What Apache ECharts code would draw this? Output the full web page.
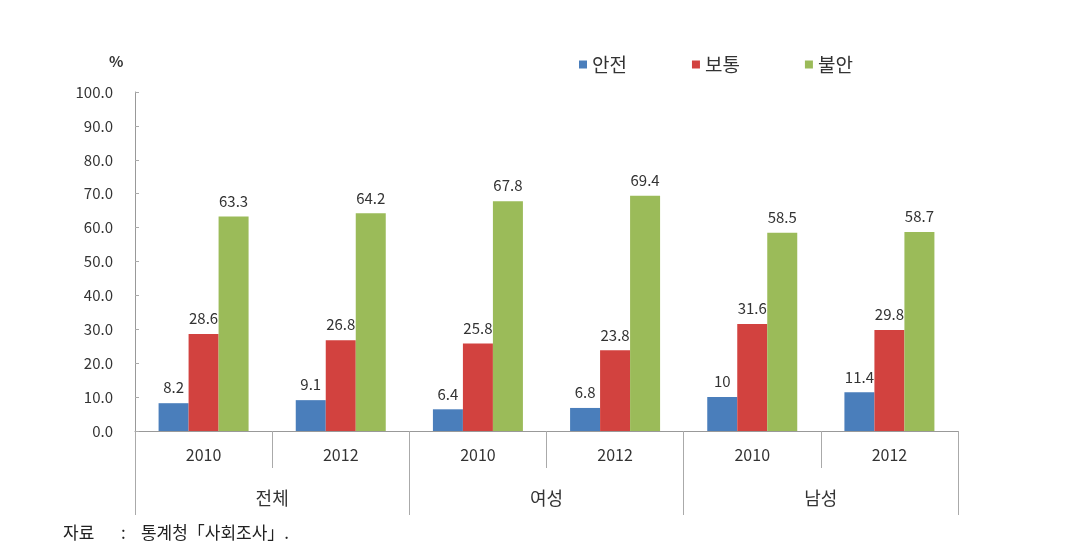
<!DOCTYPE html>
<html>
<head>
<meta charset="utf-8">
<script src="https://cdn.jsdelivr.net/npm/echarts@6/dist/echarts.min.js"></script>
<style>
html,body{margin:0;padding:0;background:#fff;}
#c{width:1072px;height:550px;}
</style>
</head>
<body>
<div id="c"></div>
<script>
const years = ['2010','2012','2010','2012','2010','2012'];
const groups = ['전체','여성','남성'];
const seriesNames = ['안전','보통','불안'];
const safe = [8.2, 9.1, 6.4, 6.8, 10, 11.4];
const normal = [28.6, 26.8, 25.8, 23.8, 31.6, 29.8];
const unsafe = [63.3, 64.2, 67.8, 69.4, 58.5, 58.7];
const yTicks = {min: 0, max: 100, interval: 10};
const sourceText = '자료       :    통계청「사회조사」.';

const FONT = '"Noto Sans CJK KR", "Noto Sans", sans-serif';
const colors = ['#4A7EBB', '#D2423F', '#9BBB59'];
const chart = echarts.init(document.getElementById('c'));
function bar(name, data, color) {
  return {
    name: name, type: 'bar', data: data, barWidth: 30, barGap: '0%',
    itemStyle: {color: color},
    label: {show: true, position: 'top', distance: 8, color: '#333', fontSize: 15, fontFamily: FONT}
  };
}
chart.setOption({
  animation: false,
  textStyle: {fontFamily: FONT},
  grid: {left: 135, right: 114, top: 92, bottom: 119},
  legend: {
    left: 574, top: 50, itemWidth: 8, itemHeight: 8, itemGap: 65,
    icon: 'rect',
    textStyle: {fontSize: 19, color: '#333', fontFamily: FONT},
    data: seriesNames
  },
  title: [{
    text: '%', left: 104, top: 49,
    textStyle: {fontSize: 15, fontWeight: 'bold', color: '#333', fontFamily: FONT}
  }, {
    text: sourceText, left: 58, top: 519,
    textStyle: {fontSize: 17, fontWeight: 'normal', color: '#222', fontFamily: FONT}
  }],
  xAxis: [{
    type: 'category', data: years, position: 'bottom',
    axisLine: {lineStyle: {color: '#999'}},
    axisTick: {show: true, interval: 0, length: 37, lineStyle: {color: '#aaa'}},
    axisLabel: {interval: 0, margin: 16, fontSize: 16, color: '#333', fontFamily: FONT}
  }, {
    type: 'category', data: groups, position: 'bottom',
    axisLine: {show: false},
    axisTick: {show: true, interval: 0, length: 84, lineStyle: {color: '#aaa'}},
    axisLabel: {interval: 0, margin: 58, fontSize: 18, color: '#333', fontFamily: FONT}
  }],
  yAxis: {
    type: 'value', min: yTicks.min, max: yTicks.max, interval: yTicks.interval,
    axisLine: {show: true, lineStyle: {color: '#999'}},
    axisTick: {show: true, inside: true, length: 4, lineStyle: {color: '#aaa'}},
    splitLine: {show: false},
    axisLabel: {margin: 22, fontSize: 15, color: '#333', fontFamily: FONT,
      formatter: v => v.toFixed(1)}
  },
  series: [
    bar(seriesNames[0], safe, colors[0]),
    bar(seriesNames[1], normal, colors[1]),
    bar(seriesNames[2], unsafe, colors[2])
  ]
});
</script>
</body>
</html>
